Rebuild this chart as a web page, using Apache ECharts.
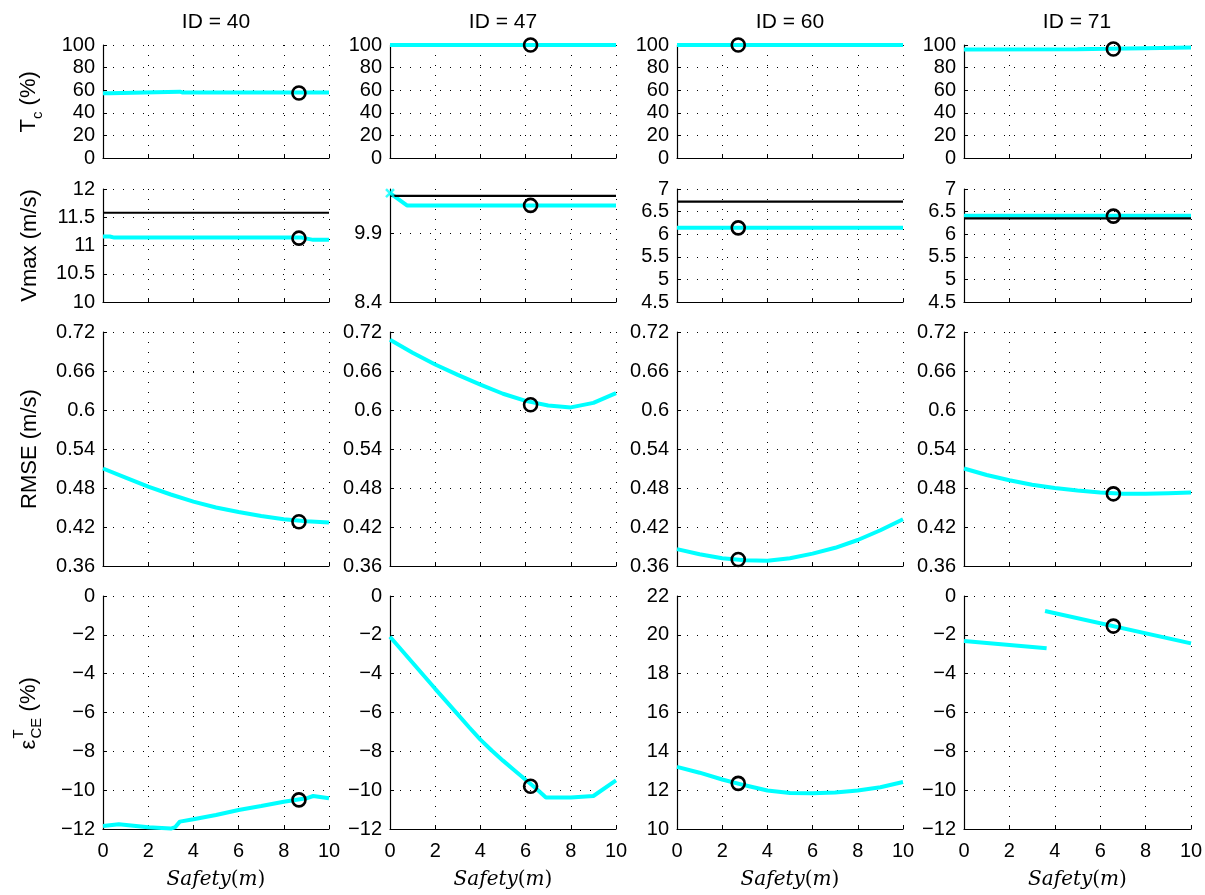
<!DOCTYPE html>
<html><head><meta charset="utf-8">
<script src="https://cdn.jsdelivr.net/npm/echarts@6/dist/echarts.min.js"></script>
<style>html,body{margin:0;padding:0;background:#fff}#c{width:1205px;height:895px}</style>
</head><body><div id="c"></div>
<script>
// ---------------- DATA ----------------
const ids = ['ID = 40', 'ID = 47', 'ID = 60', 'ID = 71'];
const xTicksMax = 10;
const X11 = [0, 1, 2, 3, 4, 5, 6, 7, 8, 9, 10];

// Row 1: T_c (%)
const tc40_x = [0, 0.3, 0.35, 3.4, 3.5, 10];
const tc40_y = [57.4, 57.4, 58.7, 58.7, 58.0, 58.0];
const tc47_x = [0, 10];
const tc47_y = [100, 100];
const tc60_x = [0, 10];
const tc60_y = [100, 100];
const tc71_x = [0, 5, 6.3, 8, 10];
const tc71_y = [96.0, 96.2, 96.6, 97.2, 97.8];
const tc_opt = [[8.67, 57.5], [6.22, 100], [2.71, 100], [6.58, 96.5]];

// Row 2: Vmax (m/s)
const v40_x = [0, 0.3, 0.5, 8.8, 9.3, 10];
const v40_y = [11.16, 11.16, 11.14, 11.14, 11.10, 11.10];
const v47_x = [0, 0.75, 10];
const v47_y = [10.79, 10.52, 10.52];
const v60_x = [0, 10];
const v60_y = [6.14, 6.14];
const v71_x = [0, 10];
const v71_y = [6.41, 6.41];
const v_ref = [11.58, 10.73, 6.72, 6.35];      // black reference lines
const v_opt = [[8.67, 11.13], [6.22, 10.52], [2.71, 6.14], [6.58, 6.40]];
const v47_start = [0, 10.79];                  // cross marker

// Row 3: RMSE (m/s)
const r40_y = [0.510, 0.496, 0.482, 0.470, 0.459, 0.450, 0.443, 0.437, 0.432, 0.429, 0.427];
const r47_y = [0.708, 0.688, 0.670, 0.654, 0.639, 0.625, 0.614, 0.607, 0.604, 0.611, 0.626];
const r60_y = [0.386, 0.378, 0.372, 0.369, 0.368, 0.372, 0.379, 0.388, 0.400, 0.415, 0.432];
const r71_y = [0.510, 0.500, 0.492, 0.485, 0.480, 0.476, 0.473, 0.471, 0.471, 0.472, 0.473];
const r_opt = [[8.67, 0.428], [6.22, 0.608], [2.71, 0.370], [6.58, 0.471]];

// Row 4: eps^T_CE (%)
const e40_x = [0, 0.7, 2, 3, 3.2, 3.4, 4, 5, 6, 7, 8, 9, 9.3, 10];
const e40_y = [-11.85, -11.76, -11.91, -11.98, -11.9, -11.62, -11.5, -11.28, -11.02, -10.82, -10.6, -10.42, -10.3, -10.42];
const e47_x = [0, 1, 2, 3, 3.5, 4, 4.5, 5, 5.5, 6, 6.5, 6.9, 8, 9, 10];
const e47_y = [-2.1, -3.44, -4.78, -6.1, -6.76, -7.4, -7.96, -8.48, -8.97, -9.46, -9.95, -10.38, -10.38, -10.3, -9.5];
const e60_y = [13.2, 12.9, 12.55, 12.25, 11.98, 11.85, 11.84, 11.88, 11.98, 12.15, 12.42];
const e71a_x = [0, 3.64];
const e71a_y = [-2.32, -2.69];
const e71b_x = [3.57, 10];
const e71b_y = [-0.77, -2.44];
const e_opt = [[8.67, -10.5], [6.22, -9.8], [2.71, 12.35], [6.58, -1.55]];

// y-axis ranges per row/col
const yRange = [
  [[0, 100, 20], [0, 100, 20], [0, 100, 20], [0, 100, 20]],
  [[10, 12, 0.5], [8.4, 10.88, 1.5], [4.5, 7, 0.5], [4.5, 7, 0.5]],
  [[0.36, 0.72, 0.06], [0.36, 0.72, 0.06], [0.36, 0.72, 0.06], [0.36, 0.72, 0.06]],
  [[-12, 0, 2], [-12, 0, 2], [10, 22, 2], [-12, 0, 2]]
];

// ---------------- LAYOUT ----------------
const gLeft = [103, 390, 677, 964];
const gTop = [45, 189, 332, 596];
const gH = [113, 113, 234, 233];
const gW = 226;
const FONT = "'Liberation Sans', Arial, sans-serif";
const CYAN = '#00ffff';

const zip = (xs, ys) => xs.map((x, i) => [x, ys[i]]);

const cyanData = [
  [[zip(tc40_x, tc40_y)], [zip(tc47_x, tc47_y)], [zip(tc60_x, tc60_y)], [zip(tc71_x, tc71_y)]],
  [[zip(v40_x, v40_y)], [zip(v47_x, v47_y)], [zip(v60_x, v60_y)], [zip(v71_x, v71_y)]],
  [[zip(X11, r40_y)], [zip(X11, r47_y)], [zip(X11, r60_y)], [zip(X11, r71_y)]],
  [[zip(e40_x, e40_y)], [zip(e47_x, e47_y)], [zip(X11, e60_y)], [zip(e71a_x, e71a_y), zip(e71b_x, e71b_y)]]
];
const optPts = [tc_opt, v_opt, r_opt, e_opt];

const grid = [], xAxis = [], yAxis = [], series = [];
const fmt = v => String(+(+v).toFixed(4)).replace('-', '\u2212');

for (let r = 0; r < 4; r++) {
  for (let c = 0; c < 4; c++) {
    const i = r * 4 + c;
    grid.push({ left: gLeft[c], top: gTop[r], width: c === 3 ? gW + 1 : gW, height: gH[r], containLabel: false, outerBoundsMode: 'none' });
    const last = r === 3;
    xAxis.push({
      type: 'value', gridIndex: i, min: 0, max: xTicksMax, interval: 2,
      axisLine: { show: true, onZero: false, lineStyle: { color: '#000', width: 1.2 } },
      axisTick: { show: true, inside: true, length: 4, lineStyle: { color: '#000' } },
      axisLabel: { show: last, color: '#000', fontSize: 20, fontFamily: FONT, margin: 12 },
      splitLine: { show: true, lineStyle: { type: [1, 9], color: '#000', width: 1 } },
      name: last ? '{i|Safety}{u|(}{i|m}{u|)}' : '',
      nameLocation: 'middle', nameGap: 41,
      nameTextStyle: { rich: {
        i: { fontFamily: "'DejaVu Serif', serif", fontStyle: 'italic', fontSize: 20, color: '#000' },
        u: { fontFamily: "'DejaVu Serif', serif", fontSize: 20, color: '#000' } } }
    });
    const [mn, mx, iv] = yRange[r][c];
    const odd = (r === 1 && c === 1);
    yAxis.push({
      type: 'value', gridIndex: i, min: mn, max: mx, interval: iv,
      axisLine: { show: true, onZero: false, lineStyle: { color: '#000', width: 1.2 } },
      axisTick: { show: true, inside: true, length: 4, lineStyle: { color: '#000' } },
      axisLabel: { color: '#000', fontSize: 20, fontFamily: FONT, margin: 8, formatter: fmt, showMaxLabel: !odd },
      splitLine: { show: true, showMaxLine: !odd, lineStyle: { type: [1, 9], color: '#000', width: 1 } }
    });
    cyanData[r][c].forEach(d => series.push({
      type: 'line', xAxisIndex: i, yAxisIndex: i, data: d, symbol: 'none', silent: true,
      lineStyle: { color: CYAN, width: 4 }, z: 3
    }));
    if (r === 1) {
      series.push({
        type: 'line', xAxisIndex: i, yAxisIndex: i, data: [[0, v_ref[c]], [10, v_ref[c]]],
        symbol: 'none', lineStyle: { color: '#000', width: 2.2 }, z: 4
      });
    }
    if (r === 1 && c === 1) {
      series.push({
        type: 'scatter', xAxisIndex: i, yAxisIndex: i, data: [v47_start],
        symbol: 'path://M0,0L10,10M10,0L0,10', symbolSize: 8,
        itemStyle: { color: 'none', borderColor: CYAN, borderWidth: 2.5 }, z: 5
      });
    }
    series.push({
      type: 'scatter', xAxisIndex: i, yAxisIndex: i, data: [optPts[r][c]],
      symbol: 'circle', symbolSize: 13,
      itemStyle: { color: 'rgba(0,0,0,0)', borderColor: '#000', borderWidth: 2.6, opacity: 1 }, z: 6
    });
  }
}

// Titles and y-axis names (real text)
const graphic = [];
ids.forEach((t, c) => graphic.push({
  type: 'text', x: gLeft[c] + gW / 2, y: 22,
  style: { text: t, fontSize: 21, fontFamily: FONT, fill: '#000', align: 'center', verticalAlign: 'middle' }
}));
const rowMid = r => gTop[r] + gH[r] / 2;
const big = { fontSize: 22, fontFamily: FONT, fill: '#000', verticalAlign: 'middle', align: 'left' };
const small = { fontSize: 15, fontFamily: FONT, fill: '#000', verticalAlign: 'middle', align: 'left' };
// T_c (%)
graphic.push({ type: 'group', x: 29, y: rowMid(0), rotation: Math.PI / 2, children: [
  { type: 'text', x: -31, y: 0, style: Object.assign({ text: 'T' }, big) },
  { type: 'text', x: -17.5, y: 9, style: Object.assign({ text: 'c' }, small) },
  { type: 'text', x: -10, y: 0, style: Object.assign({ text: ' (%)' }, big) }
]});
graphic.push({ type: 'text', x: 30, y: rowMid(1), rotation: Math.PI / 2,
  style: Object.assign({}, big, { text: 'Vmax (m/s)', align: 'center' }) });
graphic.push({ type: 'text', x: 30, y: rowMid(2), rotation: Math.PI / 2,
  style: Object.assign({}, big, { text: 'RMSE (m/s)', align: 'center' }) });
// eps^T_CE (%)
graphic.push({ type: 'group', x: 29, y: rowMid(3), rotation: Math.PI / 2, children: [
  { type: 'text', x: -37, y: 0, style: Object.assign({ text: '\u03b5' }, big) },
  { type: 'text', x: -26, y: -10, style: Object.assign({ text: 'T' }, small) },
  { type: 'text', x: -26, y: 8, style: Object.assign({ text: 'CE' }, small) },
  { type: 'text', x: -5, y: 0, style: Object.assign({ text: ' (%)' }, big) }
]});

const chart = echarts.init(document.getElementById('c'), null, { renderer: 'canvas' });
chart.setOption({ animation: false, backgroundColor: '#fff', grid, xAxis, yAxis, series, graphic });
</script></body></html>
